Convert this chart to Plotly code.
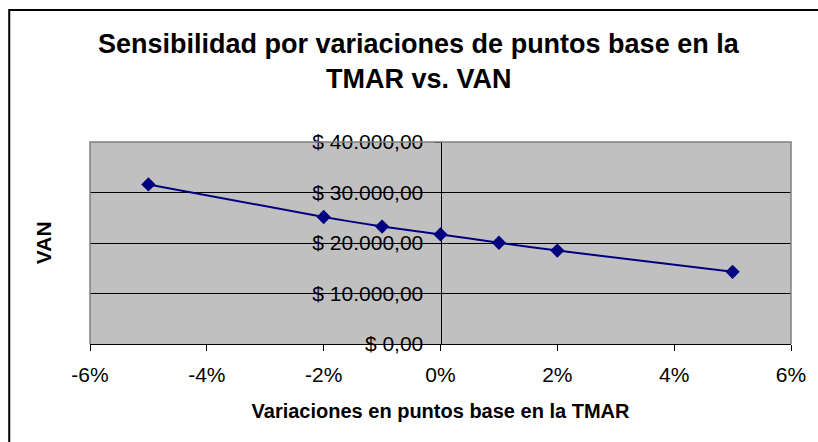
import plotly.graph_objects as go

# Variation in basis points of the TMAR and resulting VAN
variacion = [-0.05, -0.02, -0.01, 0.0, 0.01, 0.02, 0.05]
van = [31600, 25150, 23250, 21700, 20050, 18500, 14300]

x_tickvals = [-0.06, -0.04, -0.02, 0.0, 0.02, 0.04, 0.06]
x_ticktext = ["-6%", "-4%", "-2%", "0%", "2%", "4%", "6%"]
y_tickvals = [0, 10000, 20000, 30000, 40000]
y_ticktext = ["$ 0,00", "$ 10.000,00", "$ 20.000,00", "$ 30.000,00", "$ 40.000,00"]

W, H = 818, 442
L, R, T, B = 90, 25, 142, 98
pw, ph = W - L - R, H - T - B


def px_x(x):
    return (x - L) / pw


def px_y(y):
    return (H - B - y) / ph


FONT = "Liberation Sans, Arial, sans-serif"

fig = go.Figure()
fig.add_trace(go.Scatter(
    x=variacion, y=van, mode="lines+markers",
    line=dict(color="#000080", width=2, shape="spline", smoothing=0.6),
    marker=dict(symbol="diamond", size=11, color="#000080"),
    showlegend=False, cliponaxis=False,
))

fig.update_layout(
    width=W, height=H,
    margin=dict(l=L, r=R, t=T, b=B),
    paper_bgcolor="white",
    plot_bgcolor="#C0C0C0",
    font=dict(family=FONT, color="black"),
    xaxis=dict(
        range=[-0.06, 0.06], tickvals=x_tickvals, ticktext=x_ticktext,
        showgrid=False, zeroline=False, showline=True, linecolor="black",
        linewidth=1, ticks="outside", ticklen=6, tickcolor="black",
        tickfont=dict(size=21), ticklabelstandoff=6,
        title=dict(text="<b>Variaciones en puntos base en la TMAR</b>",
                   font=dict(size=20), standoff=18),
    ),
    yaxis=dict(
        range=[0, 40000], tickvals=y_tickvals, ticktext=y_ticktext,
        anchor="free", position=0.5,
        showgrid=True, gridcolor="black", gridwidth=1, zeroline=False,
        showline=True, linecolor="black", linewidth=1,
        ticks="outside", ticklen=6, tickcolor="black",
        tickfont=dict(size=21), ticklabelstandoff=7,
    ),
    shapes=[
        # grey border of the plot area (top, left, right)
        dict(type="path", xref="paper", yref="paper",
             path="M 0 0 L 0 1 L 1 1 L 1 0",
             line=dict(color="#808080", width=1.5), layer="above"),
        # outer chart frame
        dict(type="rect", xref="paper", yref="paper",
             x0=px_x(9), x1=px_x(840), y0=px_y(470), y1=px_y(10),
             line=dict(color="black", width=2), fillcolor="rgba(0,0,0,0)"),
    ],
    annotations=[
        dict(text="<b>Sensibilidad por variaciones de puntos base en la</b>",
             xref="paper", yref="paper", x=px_x(420), y=px_y(44),
             showarrow=False, font=dict(size=27), xanchor="center", yanchor="middle"),
        dict(text="<b>TMAR vs. VAN</b>",
             xref="paper", yref="paper", x=px_x(420), y=px_y(79),
             showarrow=False, font=dict(size=27), xanchor="center", yanchor="middle"),
        dict(text="<b>VAN</b>", textangle=-90,
             xref="paper", yref="paper", x=px_x(43), y=px_y(243),
             showarrow=False, font=dict(size=21), xanchor="center", yanchor="middle"),
    ],
)

fig.write_html("out.html")
